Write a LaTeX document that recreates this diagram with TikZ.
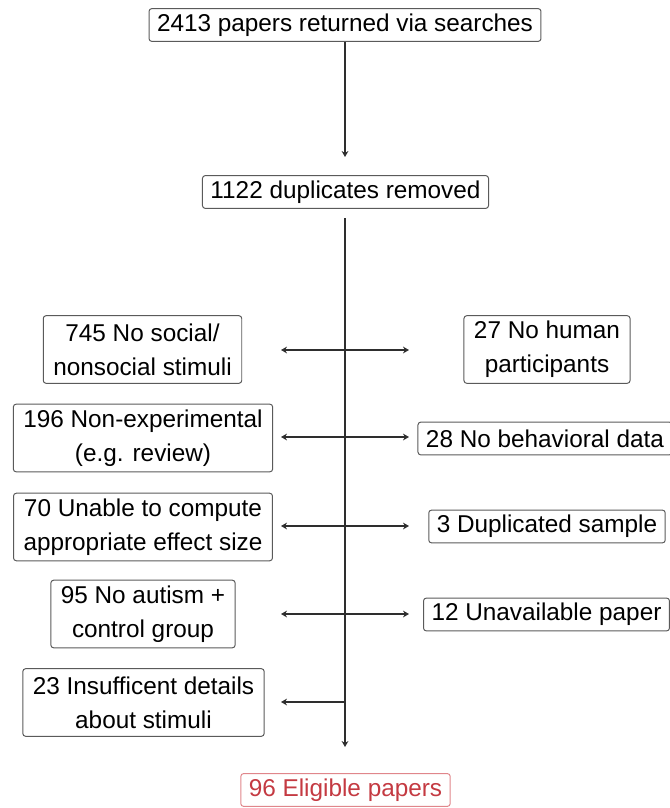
\documentclass[tikz,border=0pt]{standalone}
\usepackage{fontspec}
\setmainfont{Liberation Sans}
\usepackage{tikz}
\usetikzlibrary{arrows.meta}
\definecolor{boxgrey}{HTML}{5A5A5A}
\definecolor{linegrey}{HTML}{2E2E2E}
\definecolor{eligred}{HTML}{C43A42}
\definecolor{eligrim}{HTML}{E0868B}

\tikzset{
  onebox/.style={draw=boxgrey, line width=0.7pt, rounded corners=0.07cm,
    inner xsep=0.2cm, inner ysep=0pt, minimum height=0.82cm,
    font=\fontsize{17.3}{24}\selectfont},
  twobox/.style={onebox, align=center, inner xsep=0.25cm, minimum height=1.69cm},
  flow/.style={draw=linegrey, line width=1pt},
}

\begin{document}
\begin{tikzpicture}[x=0.025cm,y=-0.025cm,>={Stealth[length=0.15cm,width=0.17cm]}]
           \useasboundingbox (0,0) rectangle (670,808);

           % Searches
           \node[onebox] (search) at (345,25) {2413 papers returned via searches};
           \coordinate (dupin) at (345,157);
           \draw[flow,->] (search.south)--(dupin);

           % Duplicates
           \node[onebox] (dup) at (345.5,192) {1122 duplicates removed};

           % Main trunk
           \coordinate (trunktop) at (345,218);
           \coordinate (trunkend) at (345,747);
           \draw[flow,->] (trunktop)--(trunkend);

           % Social / nonsocial stimuli + human participants
           \node[twobox] (social) at (142.5,349.5) {745 No social/\\nonsocial stimuli};
           \node[twobox] (human) at (547,349.5) {27 No human\\participants};
           \coordinate (socialL) at (281,350);
           \coordinate (socialR) at (409,350);
           \draw[flow,<->] (socialL)--(socialR);

           % Non-experimental + behavioral data
           \node[twobox] (nonexp) at (143,438) {196 Non-experimental\\(e.g. review)};
           \node[onebox] (behav) at (545,438.5) {28 No behavioral data};
           \coordinate (nonexpL) at (281,437);
           \coordinate (nonexpR) at (409,437);
           \draw[flow,<->] (nonexpL)--(nonexpR);

           % Effect size + duplicated sample
           \node[twobox] (effect) at (143,527) {70 Unable to compute\\appropriate effect size};
           \node[onebox] (sample) at (547,526.5) {3 Duplicated sample};
           \coordinate (effectL) at (281,526);
           \coordinate (effectR) at (409,526);
           \draw[flow,line width=1.4pt,<->] (effectL)--(effectR);

           % Control group + unavailable paper
           \node[twobox] (control) at (143,614) {95 No autism +\\control group};
           \node[onebox] (unavail) at (546.5,614.5) {12 Unavailable paper};
           \coordinate (controlL) at (281,614);
           \coordinate (controlR) at (409,614);
           \draw[flow,line width=1.4pt,<->] (controlL)--(controlR);

           % Stimuli details
           \node[twobox] (details) at (143.5,702.5) {23 Insufficent details\\about stimuli};
           \coordinate (detailsL) at (281,702);
           \coordinate (detailsR) at (345,702);
           \draw[flow,line width=1.4pt,->] (detailsR)--(detailsL);

           % Eligible
           \node[onebox, draw=eligrim, text=eligred] (eligible) at (345.5,790) {96 Eligible papers};

          \end{tikzpicture}
\end{document}
